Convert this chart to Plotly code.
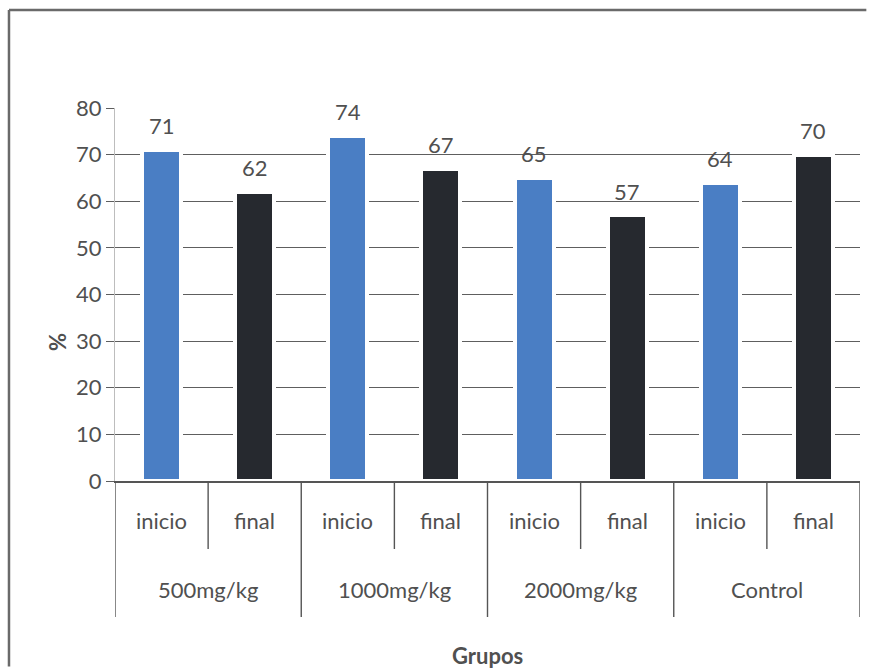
import plotly.graph_objects as go

# Data
groups = ["500mg/kg", "1000mg/kg", "2000mg/kg", "Control"]
phases = ["inicio", "final"]
inicio_vals = [71, 74, 65, 64]
final_vals = [62, 67, 57, 70]

y_ticks = [0, 10, 20, 30, 40, 50, 60, 70, 80]

BLUE = "#4a7ec4"
DARK = "#26292f"
TEXT = "#505050"
FONT = "Lato"
FS = 22

# Flatten into one position per bar: group-major, phase-minor
labels, values, colors = [], [], []
for g, a, b in zip(groups, inicio_vals, final_vals):
    for ph, v in zip(phases, (a, b)):
        labels.append(ph)
        values.append(v)
        colors.append(BLUE if ph == "inicio" else DARK)
pos = list(range(len(values)))

fig = go.Figure()
fig.add_trace(go.Bar(
    x=pos, y=values, width=0.42,
    marker=dict(color=colors, line=dict(color="white", width=4)),
    hoverinfo="y", showlegend=False,
))

annotations = []
# value labels above the bars
for x, v in zip(pos, values):
    annotations.append(dict(x=x, y=v, xref="x", yref="y", text=str(v),
                            showarrow=False, yshift=24, yanchor="middle",
                            font=dict(family=FONT, size=FS, color=TEXT)))
# first-level category labels
for x, t in zip(pos, labels):
    annotations.append(dict(x=x, y=-0.107, xref="x", yref="paper", text=t,
                            showarrow=False, yanchor="middle",
                            font=dict(family=FONT, size=FS, color=TEXT)))
# second-level group labels
n_ph = len(phases)
for gi, g in enumerate(groups):
    xc = gi * n_ph + (n_ph - 1) / 2
    annotations.append(dict(x=xc, y=-0.2896, xref="x", yref="paper", text=g,
                            showarrow=False, yanchor="middle",
                            font=dict(family=FONT, size=FS, color=TEXT)))
# axis titles
annotations.append(dict(x=0.5, y=-0.4665, xref="paper", yref="paper",
                        text="<b>Grupos</b>", showarrow=False, yanchor="middle",
                        font=dict(family=FONT, size=FS, color=TEXT)))
annotations.append(dict(x=-0.0765, y=0.373, xref="paper", yref="paper",
                        text="<b>%</b>", showarrow=False, textangle=-90,
                        xanchor="center", yanchor="middle",
                        font=dict(family=FONT, size=FS, color=TEXT)))

shapes = []
# dividers between categories (short) and between groups (long)
for i in range(len(pos) + 1):
    xb = i - 0.5
    is_group_edge = (i % n_ph == 0)
    shapes.append(dict(type="line", xref="x", yref="paper",
                       x0=xb, x1=xb, y0=0, y1=-0.3646 if is_group_edge else -0.1823,
                       line=dict(color="#555555", width=1.4)))
# chart frame: top and left edges
frame = dict(color="#6a6a6a", width=2.5)
shapes.append(dict(type="line", xref="paper", yref="paper",
                   x0=-0.1423, x1=1.0085, y0=1.263, y1=1.263, line=frame))
shapes.append(dict(type="line", xref="paper", yref="paper",
                   x0=-0.1423, x1=-0.1423, y0=-0.497, y1=1.263, line=frame))

fig.update_layout(
    width=872, height=669,
    margin=dict(l=115, r=12, t=108, b=188),
    paper_bgcolor="white", plot_bgcolor="white",
    bargap=0,
    annotations=annotations,
    shapes=shapes,
    xaxis=dict(range=[-0.5, len(pos) - 0.5], showticklabels=False,
               showgrid=False, zeroline=False, ticks="",
               showline=True, linecolor="#555555", linewidth=1.5),
    yaxis=dict(range=[0, 80], tickvals=y_ticks, showgrid=True,
               gridcolor="#5e5e5e", gridwidth=1.3,
               ticks="outside", ticklen=8, tickcolor="#5e5e5e", tickwidth=1.3,
               showline=True, linecolor="#bdbdbd", linewidth=1,
               zeroline=False,
               tickfont=dict(family=FONT, size=FS, color=TEXT)),
)

fig.write_html("out.html")
